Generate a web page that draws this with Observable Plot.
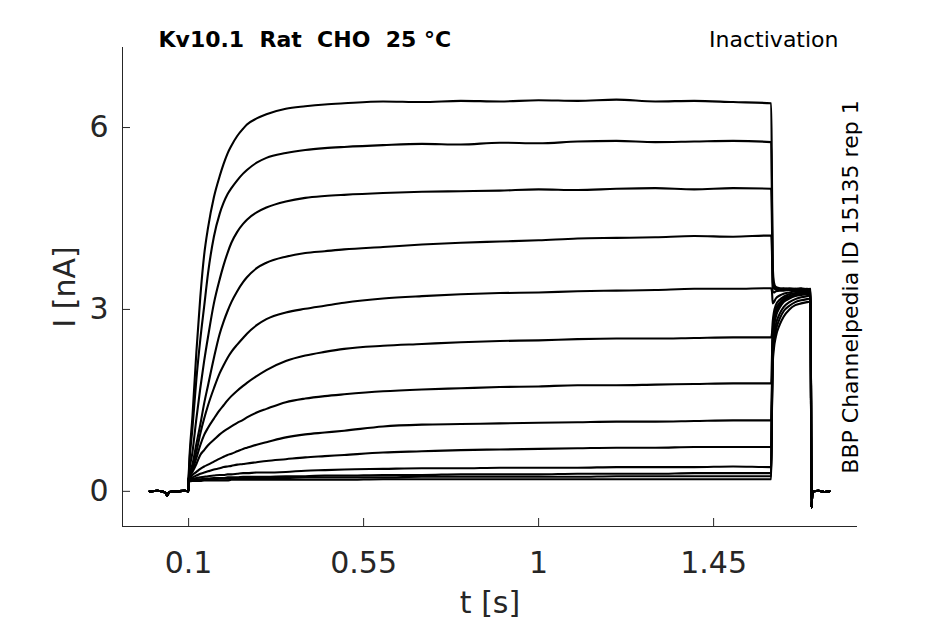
<!DOCTYPE html>
<html>
<head>
<meta charset="utf-8">
<script src="https://cdn.jsdelivr.net/npm/d3@7"></script>
<script src="https://cdn.jsdelivr.net/npm/@observablehq/plot@0.6"></script>
<style>
  html, body { margin: 0; padding: 0; background: #fff; }
  #chart { width: 945px; height: 624px; }
</style>
</head>
<body>
<div id="chart"></div>
<script>
// ---- data ----
const xTicks = [0.1, 0.55, 1, 1.45];
const yTicks = [0, 3, 6];
const xDomain = [-0.07, 1.82];
const yDomain = [-0.58, 7.32];

// holding baseline before the step (s, nA)
const tPre = [0, 0.02, 0.04, 0.045, 0.05, 0.07, 0.09, 0.0995];
const iPre = [0, 0.01, -0.02, -0.07, -0.01, 0.0, 0.01, 0.0];

// step (prepulse) sample times
const tStep = [0.1, 0.11, 0.12, 0.13, 0.14, 0.15, 0.165, 0.18, 0.19, 0.2, 0.21, 0.225, 0.24, 0.25, 0.275, 0.3, 0.35, 0.4, 0.45, 0.5, 0.6, 0.7, 0.8, 0.9, 1.0, 1.1, 1.2, 1.3, 1.4, 1.5, 1.598];
const stepCurrents = [
  [0.20, 1.25, 2.3, 3.2, 3.9, 4.35, 4.85, 5.2, 5.4, 5.57, 5.7, 5.86, 5.98, 6.05, 6.15, 6.22, 6.31, 6.35, 6.38, 6.40, 6.43, 6.42, 6.44, 6.43, 6.45, 6.44, 6.46, 6.43, 6.44, 6.42, 6.40],
  [0.2, 1.05, 1.85, 2.5, 3.05, 3.6, 4.2, 4.58, 4.76, 4.9, 5.0, 5.13, 5.24, 5.3, 5.42, 5.5, 5.58, 5.63, 5.66, 5.68, 5.71, 5.73, 5.72, 5.75, 5.74, 5.77, 5.78, 5.76, 5.77, 5.78, 5.76],
  [0.2, 0.65, 1.2, 1.7, 2.15, 2.55, 3.1, 3.5, 3.73, 3.93, 4.1, 4.28, 4.41, 4.48, 4.6, 4.68, 4.78, 4.84, 4.87, 4.89, 4.92, 4.94, 4.95, 4.96, 4.98, 4.97, 4.99, 5.0, 4.98, 5.0, 4.99],
  [0.2, 0.45, 0.78, 1.1, 1.45, 1.75, 2.2, 2.6, 2.8, 2.97, 3.12, 3.3, 3.45, 3.53, 3.68, 3.77, 3.87, 3.93, 3.96, 3.99, 4.03, 4.07, 4.1, 4.12, 4.14, 4.17, 4.18, 4.19, 4.21, 4.2, 4.22],
  [0.2, 0.4, 0.65, 0.95, 1.2, 1.42, 1.7, 1.95, 2.08, 2.2, 2.3, 2.42, 2.53, 2.6, 2.74, 2.84, 2.95, 3.01, 3.06, 3.11, 3.18, 3.22, 3.25, 3.27, 3.28, 3.3, 3.31, 3.32, 3.34, 3.34, 3.35],
  [0.2, 0.35, 0.55, 0.76, 0.93, 1.05, 1.2, 1.34, 1.42, 1.5, 1.57, 1.66, 1.74, 1.79, 1.9, 2.0, 2.15, 2.24, 2.3, 2.35, 2.4, 2.43, 2.46, 2.48, 2.49, 2.51, 2.52, 2.52, 2.53, 2.54, 2.54],
  [0.2, 0.32, 0.45, 0.6, 0.68, 0.76, 0.85, 0.94, 0.99, 1.03, 1.07, 1.13, 1.18, 1.22, 1.3, 1.36, 1.47, 1.53, 1.57, 1.6, 1.65, 1.68, 1.7, 1.72, 1.73, 1.75, 1.75, 1.76, 1.77, 1.78, 1.78],
  [0.2, 0.27, 0.32, 0.37, 0.41, 0.44, 0.49, 0.54, 0.57, 0.6, 0.62, 0.66, 0.7, 0.72, 0.77, 0.81, 0.89, 0.94, 0.97, 1.0, 1.07, 1.1, 1.11, 1.12, 1.13, 1.14, 1.15, 1.15, 1.16, 1.17, 1.17],
  [0.19, 0.23, 0.26, 0.29, 0.31, 0.33, 0.36, 0.38, 0.4, 0.41, 0.42, 0.44, 0.45, 0.46, 0.48, 0.5, 0.53, 0.56, 0.58, 0.6, 0.64, 0.66, 0.68, 0.69, 0.7, 0.71, 0.72, 0.72, 0.73, 0.73, 0.73],
  [0.19, 0.21, 0.22, 0.23, 0.24, 0.25, 0.26, 0.27, 0.27, 0.28, 0.28, 0.29, 0.3, 0.3, 0.31, 0.31, 0.32, 0.34, 0.35, 0.36, 0.37, 0.38, 0.38, 0.39, 0.39, 0.39, 0.4, 0.4, 0.4, 0.41, 0.4],
  [0.18, 0.19, 0.2, 0.2, 0.21, 0.21, 0.22, 0.22, 0.22, 0.23, 0.23, 0.23, 0.24, 0.24, 0.24, 0.24, 0.25, 0.25, 0.26, 0.26, 0.27, 0.27, 0.28, 0.28, 0.28, 0.29, 0.29, 0.29, 0.3, 0.3, 0.3],
  [0.17, 0.18, 0.19, 0.19, 0.2, 0.2, 0.2, 0.21, 0.21, 0.21, 0.21, 0.21, 0.22, 0.22, 0.22, 0.22, 0.22, 0.23, 0.23, 0.23, 0.23, 0.24, 0.24, 0.24, 0.24, 0.24, 0.25, 0.25, 0.25, 0.25, 0.25],
  [0.16, 0.17, 0.17, 0.17, 0.18, 0.18, 0.18, 0.18, 0.18, 0.18, 0.19, 0.19, 0.19, 0.19, 0.19, 0.19, 0.19, 0.19, 0.19, 0.19, 0.2, 0.2, 0.2, 0.2, 0.2, 0.2, 0.2, 0.2, 0.2, 0.2, 0.2]
];

// inactivation test pulse (tail) sample times
const tTail = [1.6, 1.602, 1.605, 1.61, 1.62, 1.63, 1.645, 1.66, 1.675, 1.69, 1.6995];
const tailCurrents = [
  [5.2, 3.75, 3.45, 3.37, 3.35, 3.34, 3.35, 3.34, 3.35, 3.33, 3.34],
  [4.8, 3.6, 3.4, 3.35, 3.34, 3.35, 3.33, 3.34, 3.33, 3.34, 3.33],
  [4.4, 3.45, 3.35, 3.33, 3.33, 3.32, 3.33, 3.33, 3.34, 3.32, 3.33],
  [3.95, 3.3, 3.28, 3.3, 3.31, 3.31, 3.32, 3.32, 3.31, 3.32, 3.32],
  [3.3, 3.1, 3.12, 3.18, 3.23, 3.26, 3.28, 3.3, 3.3, 3.31, 3.3],
  [2.6, 2.8, 2.95, 3.07, 3.16, 3.21, 3.25, 3.27, 3.28, 3.29, 3.29],
  [2.2, 2.65, 2.85, 3.0, 3.11, 3.18, 3.22, 3.25, 3.27, 3.28, 3.28],
  [1.8, 2.55, 2.78, 2.95, 3.08, 3.15, 3.21, 3.24, 3.26, 3.27, 3.27],
  [1.6, 2.5, 2.74, 2.92, 3.06, 3.14, 3.2, 3.23, 3.25, 3.26, 3.26],
  [1.5, 2.45, 2.7, 2.88, 3.03, 3.12, 3.18, 3.22, 3.24, 3.25, 3.25],
  [1.4, 2.3, 2.55, 2.75, 2.93, 3.04, 3.12, 3.17, 3.2, 3.22, 3.23],
  [1.35, 2.2, 2.45, 2.65, 2.85, 2.97, 3.06, 3.12, 3.15, 3.17, 3.18],
  [1.3, 2.1, 2.35, 2.55, 2.75, 2.88, 3.0, 3.07, 3.1, 3.12, 3.13]
];

// return to holding after the tail
const tPost = [1.7015, 1.704, 1.707, 1.72, 1.735, 1.748];
const iPost = [-0.27, -0.03, 0.0, 0.01, -0.01, 0.0];

const titleText = "Kv10.1\u00a0\u00a0Rat\u00a0\u00a0CHO\u00a0\u00a025 °C";
const protocolText = "Inactivation";
const sourceText = "BBP Channelpedia ID 15135 rep 1";
const xLabel = "t [s]";
const yLabel = "I [nA]";

// ---- build the table ----
const rows = [];
stepCurrents.forEach((step, k) => {
  tPre.forEach((t, j) => rows.push({k, t, i: iPre[j]}));
  tStep.forEach((t, j) => rows.push({k, t, i: step[j]}));
  tTail.forEach((t, j) => rows.push({k, t, i: tailCurrents[k][j]}));
  tPost.forEach((t, j) => rows.push({k, t, i: iPost[j]}));
});

const axisColor = "#262626";
const chart = Plot.plot({
  width: 945,
  height: 624,
  marginLeft: 122,
  marginRight: 88,
  marginTop: 47,
  marginBottom: 98,
  style: {fontFamily: "DejaVu Sans", background: "#fff", overflow: "visible"},
  x: {domain: xDomain},
  y: {domain: yDomain},
  marks: [
    Plot.ruleX([xDomain[0]], {stroke: axisColor, strokeWidth: 1}),
    Plot.ruleY([yDomain[0]], {stroke: axisColor, strokeWidth: 1}),
    Plot.axisX(xTicks, {tickSize: -8, tickPadding: 33, fontSize: 30, color: axisColor, tickFormat: d => String(d), label: null}),
    Plot.axisY(yTicks, {tickSize: -8, tickPadding: 22, fontSize: 30, color: axisColor, tickFormat: d => String(d), label: null}),
    Plot.line(rows, {x: "t", y: "i", z: "k", stroke: "#000", strokeWidth: 2.1, curve: "monotone-x"}),
    Plot.text([titleText], {text: d => d, frameAnchor: "top-left", dx: 36, dy: -8, textAnchor: "start", lineAnchor: "middle", fontSize: 22, fontWeight: "bold", fill: "#000"}),
    Plot.text([protocolText], {text: d => d, frameAnchor: "top-right", dx: -19, dy: -8, textAnchor: "end", lineAnchor: "middle", fontSize: 22, fill: "#000"}),
    Plot.text([sourceText], {text: d => d, frameAnchor: "right", dx: -7, rotate: -90, textAnchor: "middle", lineAnchor: "middle", fontSize: 22, fill: "#000"}),
    Plot.text([xLabel], {text: d => d, frameAnchor: "bottom", dy: 77, textAnchor: "middle", lineAnchor: "middle", fontSize: 30, fill: axisColor}),
    Plot.text([yLabel], {text: d => d, frameAnchor: "left", dx: -57, rotate: -90, textAnchor: "middle", lineAnchor: "middle", fontSize: 30, fill: axisColor})
  ]
});
document.getElementById("chart").appendChild(chart);
</script>
</body>
</html>
